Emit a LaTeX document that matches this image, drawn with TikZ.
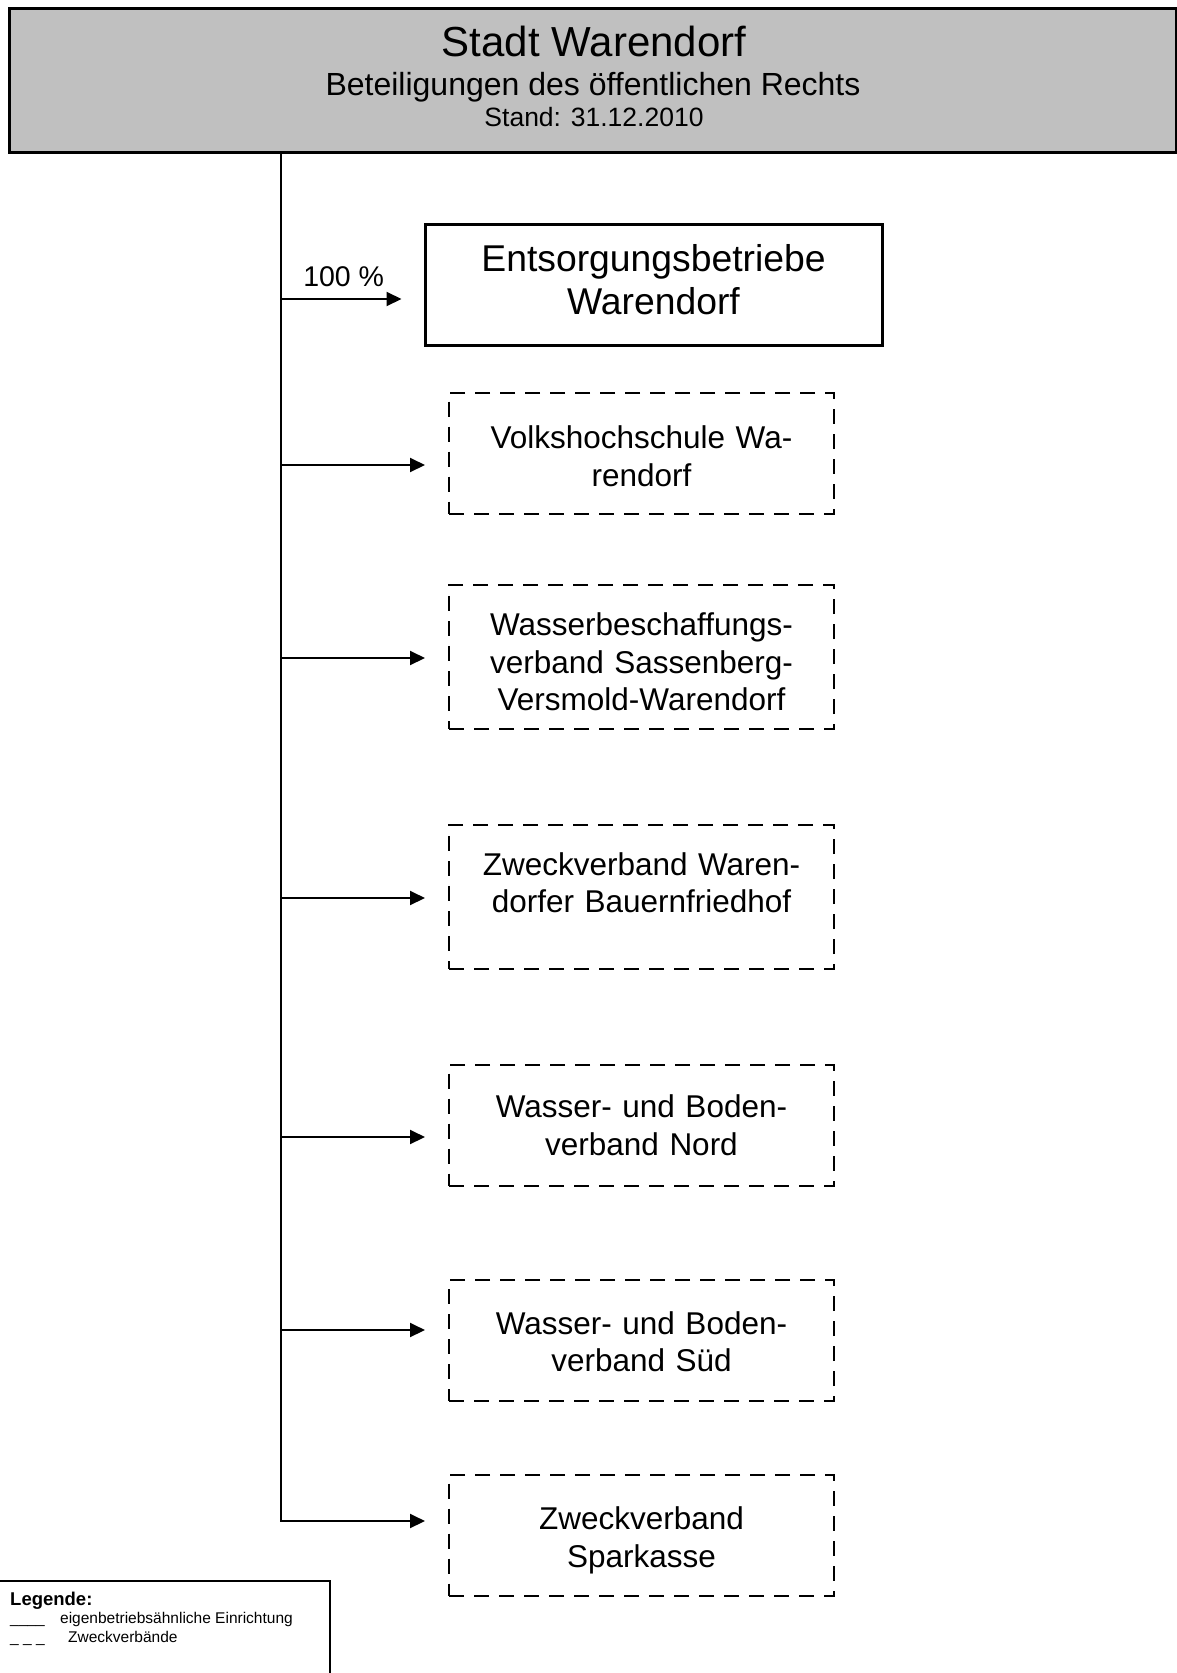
\documentclass[tikz,border=0pt]{standalone}
\usepackage{fontspec}
\setmainfont{Liberation Sans}
\usetikzlibrary{arrows.meta}

\definecolor{headgray}{RGB}{192,192,192}

\tikzset{
  headbox/.style={draw, fill=headgray, line width=3pt, minimum width=1167pt, minimum height=144pt, inner sep=0pt},
  entbox/.style={draw, line width=3pt, minimum width=457pt, minimum height=121pt, inner sep=0pt},
  enttext/.style={text width=440pt, align=center, inner sep=0pt, font=\fontsize{37.3}{43}\selectfont},
  dashbox/.style={draw, dash pattern=on 15pt off 10pt, line width=2pt, minimum width=385pt, inner sep=0pt},
  boxtext/.style={text width=370pt, align=center, inner sep=0pt, font=\fontsize{31.5}{37.5}\selectfont},
  arr/.style={line width=2pt, -{Triangle[length=15pt,width=14pt]}, shorten >=23pt},
  legtext/.style={anchor=base west, inner sep=0pt, font=\fontsize{15.5}{18}\selectfont}
}

\begin{document}
\begin{tikzpicture}[x=1pt,y=-1pt]
  \useasboundingbox (0,0) rectangle (1177,1673);

  % header
  \node[headbox] (stadt) at (592.5,80) {};
  \node[anchor=base, inner sep=0pt, font=\fontsize{42}{50}\selectfont] (titel) at (594,56) {Stadt Warendorf};
  \node[anchor=base, inner sep=0pt, font=\fontsize{32}{38}\selectfont] (untertitel) at (593,95) {Beteiligungen des öffentlichen Rechts};
  \node[anchor=base, inner sep=0pt, font=\fontsize{26.5}{32}\selectfont] (stand) at (594,126.5) {Stand: 31.12.2010};

  % holdings
  \node[entbox] (ebw) at (653.5,284.5) {};
  \node[enttext] (ebwtext) at ([yshift=5.3pt]ebw.center) {Entsorgungsbetriebe\\Warendorf};

  \node[dashbox, minimum height=121pt] (vhs) at (641.5,453) {};
  \node[boxtext] (vhstext) at ([yshift=-3.2pt]vhs.center) {Volkshochschule Wa-\\rendorf};

  \node[dashbox, minimum height=144pt] (wbv) at (641.5,657) {};
  \node[boxtext] (wbvtext) at ([yshift=-4.8pt]wbv.center) {Wasserbeschaffungs-\\verband Sassenberg-\\Versmold-Warendorf};

  \node[dashbox, minimum height=144pt] (zbf) at (641.5,897) {};
  \node[boxtext] (zbftext) at ([yshift=-10pt]zbf.center) {Zweckverband Waren-\\dorfer Bauernfriedhof\\\strut};

  \node[dashbox, minimum height=121pt] (wbn) at (641.5,1125) {};
  \node[boxtext] (wbntext) at (wbn.center) {Wasser- und Boden-\\verband Nord};

  \node[dashbox, minimum height=121pt] (wbs) at (641.5,1340.5) {};
  \node[boxtext] (wbstext) at ([yshift=-1pt]wbs.center) {Wasser- und Boden-\\verband Süd};

  \node[dashbox, minimum height=121pt] (spk) at (641.5,1535) {};
  \node[boxtext] (spktext) at ([yshift=-5.3pt]spk.center) {Zweckverband\\Sparkasse};

  % branch points on the trunk
  \coordinate (t1) at (281,299);
  \coordinate (t2) at (281,465);
  \coordinate (t3) at (281,658);
  \coordinate (t4) at (281,898);
  \coordinate (t5) at (281,1137);
  \coordinate (t6) at (281,1330);
  \coordinate (t7) at (281,1521);

  \draw[arr] (stadt.south -| t7) -- (t7) -- (t7 -| spk.west);
  \draw[arr, shorten >=22pt] (t1) -- (t1 -| ebw.west)
    node[pos=0.44, above=11pt, inner sep=0pt, font=\fontsize{28.5}{34}\selectfont] (anteil) {100 \%};
  \draw[arr] (t2) -- (t2 -| vhs.west);
  \draw[arr] (t3) -- (t3 -| wbv.west);
  \draw[arr] (t4) -- (t4 -| zbf.west);
  \draw[arr] (t5) -- (t5 -| wbn.west);
  \draw[arr] (t6) -- (t6 -| wbs.west);

  % legend
  \draw[line width=2pt] (-10,1581) rectangle (330,1700);
  \node[anchor=base west, inner sep=0pt, font=\bfseries\fontsize{18.5}{22}\selectfont] (legende) at (10,1605) {Legende:};
  \node[legtext] (leg1) at (10,1623) {\_\_\_\_\hspace{15.5pt}eigenbetriebsähnliche Einrichtung};
  \node[legtext] (leg2) at (10,1642) {\_ \_ \_\hspace{23.5pt}Zweckverbände};
\end{tikzpicture}
\end{document}
